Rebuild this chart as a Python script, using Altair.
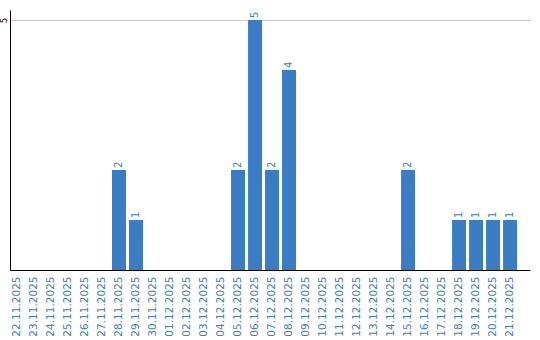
import altair as alt
import pandas as pd

dates = ["22.11.2025", "23.11.2025", "24.11.2025", "25.11.2025", "26.11.2025",
         "27.11.2025", "28.11.2025", "29.11.2025", "30.11.2025", "01.12.2025",
         "02.12.2025", "03.12.2025", "04.12.2025", "05.12.2025", "06.12.2025",
         "07.12.2025", "08.12.2025", "09.12.2025", "10.12.2025", "11.12.2025",
         "12.12.2025", "13.12.2025", "14.12.2025", "15.12.2025", "16.12.2025",
         "17.12.2025", "18.12.2025", "19.12.2025", "20.12.2025", "21.12.2025"]
values = [0, 0, 0, 0, 0, 0, 2, 1, 0, 0,
          0, 0, 0, 2, 5, 2, 4, 0, 0, 0,
          0, 0, 0, 2, 0, 0, 1, 1, 1, 1]

df = pd.DataFrame({"date": dates, "value": values})
df["label"] = df["value"].apply(lambda v: str(v) if v > 0 else "")

blue = "#3b7dc4"

x = alt.X("date:N", sort=dates,
          scale=alt.Scale(paddingInner=0.176, paddingOuter=0.38, align=0),
          axis=alt.Axis(title=None, labelAngle=270, labelAlign="right", labelBaseline="middle",
                        labelColor=blue, labelFont="DejaVu Sans", labelFontSize=10.5,
                        ticks=False, labelPadding=6, domainColor="#000000", domainWidth=1,
                        labelOverlap=False, grid=False))
y = alt.Y("value:Q", scale=alt.Scale(domain=[0, 5.2], nice=False, zero=True),
          axis=alt.Axis(title=None, values=[5], labelAngle=270, labelAlign="center",
                        labelBaseline="bottom", labelFont="DejaVu Sans", labelFontSize=8,
                        labelColor="#000000", ticks=False, labelPadding=2,
                        domainColor="#000000", gridColor="#c8c8c8", grid=True))

bars = alt.Chart(df).mark_bar(color=blue).encode(x=x, y=y)
text = alt.Chart(df).mark_text(angle=270, align="left", baseline="middle", dx=2,
                               color=blue, font="DejaVu Sans", fontSize=10).encode(
    x=alt.X("date:N", sort=dates), y="value:Q", text="label:N")

chart = (bars + text).properties(
    width=520, height=260,
    background="white",
    autosize=alt.AutoSizeParams(type="none"),
    padding={"left": 10, "top": 10, "right": 10, "bottom": 70},
).configure_view(strokeWidth=0, stroke="transparent")

chart.save("out.html", embed_options={"renderer": "svg", "actions": False})
